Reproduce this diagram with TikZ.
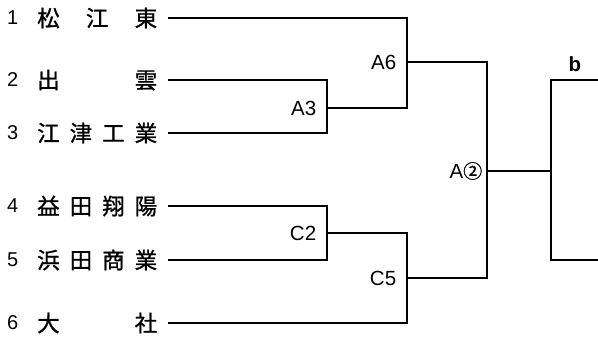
\documentclass[tikz,border=0pt]{standalone}
\usepackage{fontspec}
\setmainfont{Liberation Sans}
\newfontfamily\cjk[FakeBold=1]{Noto Sans CJK JP}
\usetikzlibrary{positioning}
\tikzset{
  school/.style = {anchor=east, inner ysep=0, inner xsep=10pt, font=\cjk\fontsize{22.5}{22.5}\selectfont},
  seed/.style = {anchor=east, inner sep=0, font=\fontsize{20}{20}\selectfont},
  game/.style = {inner sep=0, font=\fontsize{20.5}{20.5}\selectfont},
  bracket/.style = {line width=1.6pt},
}

\begin{document}
\begin{tikzpicture}[x=1pt, y=-1pt, bracket]
  \useasboundingbox (0,0) rectangle (598,341);
  % schools, numbered from the top
  \foreach \n/\name/\y in {
      1/{松\hfill 江\hfill 東}/18,
      2/{出\hfill 雲}/80,
      3/{江\hfill 津\hfill 工\hfill 業}/133,
      4/{益\hfill 田\hfill 翔\hfill 陽}/206,
      5/{浜\hfill 田\hfill 商\hfill 業}/260,
      6/{大\hfill 社}/323%
    }{
      \node (no\n) [seed] at (19,\y) {\n};
      \node (school\n) [school] at (168,\y) {\makebox[120pt][s]{\name}};
    }

  % junctions
  \coordinate (A3) at (327,108);
  \coordinate (A6) at (407,62);
  \coordinate (C2) at (327,233);
  \coordinate (C5) at (407,278);
  \coordinate (A2) at (487,171);
  \coordinate (b) at (551,171);
  \coordinate (bTop) at (598,80);
  \coordinate (bBottom) at (598,260);

  \draw (school2.east) -| (A3) |- (school3.east);
  \draw (school1.east) -| (A6) |- (A3);
  \draw (school4.east) -| (C2) |- (school5.east);
  \draw (C2) -| (C5) |- (school6.east);
  \draw (A6) -| (A2) |- (C5);
  \draw (A2) -- (b);
  \draw (bTop) -| (b) |- (bBottom);

  % game labels
  \foreach \g in {A3, A6, C2, C5}
    \node (lab\g) [game, left=10pt of \g] {\g};
  \node (labA2) [game, left=4pt of A2] {A{\cjk\fontsize{19}{19}\selectfont ②}};
  \node (labb) [game, font=\bfseries\fontsize{20.5}{20.5}\selectfont] at (575,64) {b};
\end{tikzpicture}
\end{document}
